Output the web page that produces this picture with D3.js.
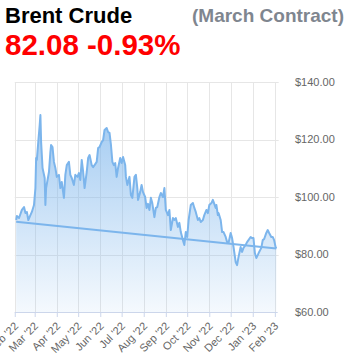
<!DOCTYPE html>
<html><head><meta charset="utf-8">
<script src="https://cdn.jsdelivr.net/npm/d3@7"></script>
<style>
html,body{margin:0;padding:0;background:#fff;}
svg{display:block;}
</style></head>
<body>
<svg id="chart" width="356" height="361"></svg>
<script>
const title = "Brent Crude";
const subtitle = "(March Contract)";
const lastPrice = "82.08";
const changePct = "-0.93%";

const dates = ["2022-02-03","2022-02-04","2022-02-07","2022-02-11","2022-02-14","2022-02-16","2022-02-18","2022-02-20","2022-02-23","2022-02-25","2022-02-28",
"2022-03-02","2022-03-03","2022-03-04","2022-03-06","2022-03-08","2022-03-09","2022-03-10","2022-03-12","2022-03-15","2022-03-16","2022-03-17","2022-03-21","2022-03-23","2022-03-24","2022-03-26","2022-03-28","2022-03-30",
"2022-04-01","2022-04-04","2022-04-06","2022-04-08","2022-04-11","2022-04-13","2022-04-15","2022-04-18","2022-04-20","2022-04-22","2022-04-25","2022-04-27","2022-04-30",
"2022-05-02","2022-05-04","2022-05-06","2022-05-08","2022-05-10","2022-05-13","2022-05-15","2022-05-17","2022-05-20","2022-05-22","2022-05-24","2022-05-27","2022-05-29","2022-05-31",
"2022-06-03","2022-06-05","2022-06-07","2022-06-10","2022-06-12","2022-06-14","2022-06-16","2022-06-18","2022-06-20","2022-06-22","2022-06-24","2022-06-26","2022-06-29",
"2022-07-01","2022-07-03","2022-07-06","2022-07-07","2022-07-09","2022-07-12","2022-07-14","2022-07-16","2022-07-19","2022-07-21","2022-07-23","2022-07-24","2022-07-27","2022-07-29","2022-07-31",
"2022-08-03","2022-08-05","2022-08-07","2022-08-09","2022-08-11","2022-08-13","2022-08-16","2022-08-18","2022-08-20","2022-08-23","2022-08-25","2022-08-28","2022-08-30",
"2022-09-01","2022-09-04","2022-09-06","2022-09-08","2022-09-11","2022-09-13","2022-09-15","2022-09-18","2022-09-20","2022-09-22","2022-09-25","2022-09-27","2022-09-29",
"2022-10-01","2022-10-03","2022-10-06","2022-10-09","2022-10-11","2022-10-13","2022-10-16","2022-10-18","2022-10-20","2022-10-23","2022-10-25","2022-10-28","2022-10-30",
"2022-11-01","2022-11-04","2022-11-06","2022-11-07","2022-11-10","2022-11-11","2022-11-13","2022-11-14","2022-11-17","2022-11-19","2022-11-21","2022-11-24","2022-11-26","2022-11-28",
"2022-12-01","2022-12-03","2022-12-05","2022-12-08","2022-12-10","2022-12-12","2022-12-15","2022-12-17","2022-12-19","2022-12-22","2022-12-24","2022-12-26","2022-12-29","2022-12-31",
"2023-01-02","2023-01-04","2023-01-06","2023-01-08","2023-01-10","2023-01-13","2023-01-15","2023-01-17","2023-01-20","2023-01-22","2023-01-24","2023-01-27","2023-01-29","2023-01-31",
"2023-02-02","2023-02-03"];

const prices = [92.0,93.4,92.7,95.5,96.5,94.4,94.8,92.0,93.7,94.8,97.2,
103.1,113.6,112.9,119.1,125.0,128.5,119.1,110.1,106.6,97.2,103.1,108.7,115.6,118.1,117.4,112.2,110.1,
107.0,107.7,103.1,105.2,99.7,107.7,111.1,112.2,107.7,106.6,104.2,107.7,107.0,
108.3,105.9,112.9,108.7,103.1,108.7,113.6,114.6,111.1,110.4,111.1,112.2,117.0,117.4,
119.1,119.8,123.3,124.0,122.6,122.3,118.1,112.2,111.1,111.8,107.0,110.1,113.6,
111.8,113.9,111.1,107.0,104.2,107.0,100.7,99.7,107.0,107.7,103.1,99.0,101.7,104.2,101.7,
100.0,96.2,97.6,95.5,99.7,97.9,93.0,96.2,96.5,100.0,101.4,100.0,103.1,
95.5,93.7,95.5,88.5,92.7,92.0,92.7,89.6,91.0,87.8,85.0,83.3,87.8,
86.1,92.0,97.2,97.9,96.2,94.8,92.0,92.7,91.3,92.0,93.7,95.5,94.4,
97.2,97.9,99.0,98.3,96.2,97.2,93.7,94.4,92.0,87.8,87.8,86.1,84.3,84.0,
87.5,85.7,82.6,77.4,76.3,79.1,82.6,80.9,82.3,83.3,84.3,85.0,86.1,85.7,
85.7,80.5,78.8,79.8,80.9,82.3,85.0,85.4,87.5,88.5,87.5,86.1,86.1,85.0,
82.6,82.08];

const trendDates = ["2022-02-03","2023-02-03"];
const trendValues = [91.4, 82.08];

const monthTicks = ["2022-02-01","2022-03-01","2022-04-01","2022-05-01","2022-06-01","2022-07-01","2022-08-01","2022-09-01","2022-10-01","2022-11-01","2022-12-01","2023-01-01","2023-02-01"];
const priceTicks = [60, 80, 100, 120, 140];
const xDomain = ["2022-02-01","2023-02-05"];
const yDomain = [60, 140];

const parse = d3.utcParse("%Y-%m-%d");
const data = dates.map((d,i)=>({date: parse(d), value: prices[i]}));
const trend = trendDates.map((d,i)=>({date: parse(d), value: trendValues[i]}));

const svg = d3.select("#chart");
const pLeft = 14.75, pRight = 277.7, pTop = 82, pBottom = 312;
const x = d3.scaleUtc().domain(xDomain.map(parse)).range([pLeft, pRight]);
const y = d3.scaleLinear().domain(yDomain).range([pBottom, pTop]);

const lineColor = "#7cb5ec";

// gradient
const defs = svg.append("defs");
const grad = defs.append("linearGradient").attr("id","areaGrad")
  .attr("gradientUnits","userSpaceOnUse").attr("x1",0).attr("x2",0)
  .attr("y1", y(d3.max(prices))).attr("y2", pBottom);
grad.append("stop").attr("offset","0%").attr("stop-color",lineColor).attr("stop-opacity",0.7);
grad.append("stop").attr("offset","100%").attr("stop-color",lineColor).attr("stop-opacity",0.08);

// grid
const gGrid = svg.append("g");
gGrid.selectAll("line.h").data(priceTicks.filter(v=>v>60)).join("line")
  .attr("x1", pLeft).attr("x2", pRight+1).attr("y1", d=>Math.round(y(d))+0.5).attr("y2", d=>Math.round(y(d))+0.5)
  .attr("stroke","#e6e6e6").attr("stroke-width",1);
gGrid.selectAll("line.v").data(monthTicks.map(parse)).join("line")
  .attr("x1", d=>Math.round(x(d))+0.5).attr("x2", d=>Math.round(x(d))+0.5).attr("y1", pTop).attr("y2", pBottom)
  .attr("stroke","#e6e6e6").attr("stroke-width",1);

// area
const area = d3.area().x(d=>x(d.date)).y0(pBottom).y1(d=>y(d.value)).curve(d3.curveLinear);
svg.append("path").datum(data).attr("d", area).attr("fill","url(#areaGrad)");

// line
const line = d3.line().x(d=>x(d.date)).y(d=>y(d.value));
svg.append("path").datum(data).attr("d", line).attr("fill","none")
  .attr("stroke", lineColor).attr("stroke-width",2).attr("stroke-linejoin","round");
svg.append("path").datum(trend).attr("d", line).attr("fill","none")
  .attr("stroke", lineColor).attr("stroke-width",2);

// x axis
const fmt = d3.utcFormat("%b '%y");
const xAxis = d3.axisBottom(x).tickValues(monthTicks.map(parse)).tickFormat(fmt).tickSize(5).tickPadding(4);
const gx = svg.append("g").attr("transform",`translate(0,${pBottom})`).call(xAxis);
gx.select(".domain").attr("stroke","#ccd6eb").attr("d", `M${pLeft},0.5H${pRight}`);
gx.selectAll(".tick line").attr("stroke","#ccd6eb");
gx.selectAll(".tick text")
  .attr("font-family","'Liberation Sans', Arial, sans-serif").attr("font-size","11px").attr("fill","#666666")
  .attr("text-anchor","end")
  .attr("transform","translate(1,12) rotate(-45)").attr("y",0).attr("x",0).attr("dy","0.35em");

// y axis labels (right)
const gy = svg.append("g");
gy.selectAll("text").data(priceTicks).join("text")
  .attr("x", 295).attr("y", d=>y(d)).attr("dy","0.35em")
  .attr("font-family","'Liberation Sans', Arial, sans-serif").attr("font-size","11px").attr("fill","#666666")
  .text(d=>d3.format("$.2f")(d));

// titles
svg.append("text").attr("x",5).attr("y",22.5).text(title)
  .attr("font-family","'Liberation Sans', Arial, sans-serif").attr("font-weight","bold").attr("font-size","22px").attr("fill","#000");
svg.append("text").attr("x",192).attr("y",22).text(subtitle)
  .attr("font-family","'Liberation Sans', Arial, sans-serif").attr("font-weight","bold").attr("font-size","19px").attr("fill","#7f868f");
svg.append("text").attr("x",5).attr("y",55).text(lastPrice + " " + changePct)
  .attr("font-family","'Liberation Sans', Arial, sans-serif").attr("font-weight","bold").attr("font-size","29.5px").attr("fill","#ff0000");
</script>
</body></html>
